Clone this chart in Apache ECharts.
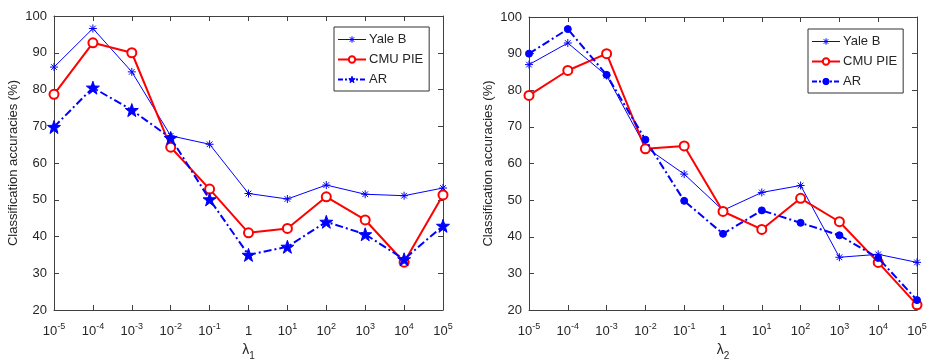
<!DOCTYPE html>
<html>
<head>
<meta charset="utf-8">
<script src="https://cdn.jsdelivr.net/npm/echarts@6/dist/echarts.min.js"></script>
<style>
  html, body { margin: 0; padding: 0; background: #fff; }
  #chart { width: 931px; height: 362px; }
</style>
</head>
<body>
<div id="chart"></div>
<script>
// lambda exponents on the x axis (10^e, 10^0 shown as "1")
const lambdaExp = [-5, -4, -3, -2, -1, 0, 1, 2, 3, 4, 5];
const yTicks = { min: 20, max: 100, interval: 10 };

// left panel: accuracy vs lambda_1
const yaleL = [86.1, 96.6, 84.8, 67.4, 65.1, 51.7, 50.2, 54.0, 51.5, 51.1, 53.2];
const cmuL  = [78.7, 92.7, 90.0, 64.3, 52.9, 41.0, 42.2, 50.8, 44.5, 33.0, 51.3];
const arL   = [69.8, 80.5, 74.4, 66.8, 50.1, 35.0, 37.2, 44.0, 40.6, 33.8, 42.9];

// right panel: accuracy vs lambda_2
const yaleR = [87.0, 92.9, 84.0, 64.5, 57.1, 47.2, 52.1, 54.0, 34.4, 35.2, 33.0];
const cmuR  = [78.6, 85.4, 90.0, 64.0, 64.8, 46.9, 42.0, 50.5, 44.1, 33.0, 21.4];
const arR   = [90.0, 96.7, 84.2, 66.5, 49.8, 40.8, 47.2, 43.8, 40.4, 34.2, 22.7];

const FONT = '"Liberation Sans", Arial, Helvetica, sans-serif';
const AXIS_C = '#404040';
const TEXT_C = '#262626';
const BLUE = '#0000ff';
const RED = '#ff0000';
const asterisk = 'path://M0,-10L0,10M-10,0L10,0M-7.07,-7.07L7.07,7.07M-7.07,7.07L7.07,-7.07';
const pentagram = 'path://M0,-10L2.35,-3.24L9.51,-3.09L3.8,1.24L5.88,8.09L0,4L-5.88,8.09L-3.8,1.24L-9.51,-3.09L-2.35,-3.24Z';

const chart = echarts.init(document.getElementById('chart'));

function tickLabel(v) {
  return v === '0' ? '{b|1}' : '{b|10}{s|' + v + '}';
}

function xAxes(gi, sub) {
  const cats = lambdaExp.map(String);
  return [
    {
      type: 'category', gridIndex: gi, data: cats, boundaryGap: false,
      position: 'bottom',
      axisLine: { lineStyle: { color: AXIS_C, width: 1 } },
      axisTick: { inside: true, length: 5, interval: 0, lineStyle: { color: AXIS_C } },
      axisLabel: {
        interval: 0, margin: 11, formatter: tickLabel, color: TEXT_C, fontFamily: FONT,
        rich: {
          b: { fontSize: 13, fontFamily: FONT, color: TEXT_C, lineHeight: 17, verticalAlign: 'bottom' },
          s: { fontSize: 9, fontFamily: FONT, color: TEXT_C, verticalAlign: 'top', lineHeight: 17, padding: [1, 0, 0, 0] }
        }
      },
      name: '{l|λ}{n|' + sub + '}',
      nameLocation: 'middle', nameGap: 32,
      nameTextStyle: {
        rich: {
          l: { fontSize: 14, fontFamily: FONT, color: TEXT_C, verticalAlign: 'top', lineHeight: 18 },
          n: { fontSize: 10, fontFamily: FONT, color: TEXT_C, verticalAlign: 'bottom', lineHeight: 18 }
        }
      },
      splitLine: { show: false }
    },
    {
      type: 'category', gridIndex: gi, data: cats, boundaryGap: false,
      position: 'top',
      axisLine: { lineStyle: { color: AXIS_C, width: 1 } },
      axisTick: { inside: true, length: 5, interval: 0, lineStyle: { color: AXIS_C } },
      axisLabel: { show: false },
      splitLine: { show: false }
    }
  ];
}

function yAxes(gi) {
  return [
    {
      type: 'value', gridIndex: gi, min: yTicks.min, max: yTicks.max, interval: yTicks.interval,
      position: 'left',
      axisLine: { show: true, lineStyle: { color: AXIS_C, width: 1 } },
      axisTick: { show: true, inside: true, length: 5, lineStyle: { color: AXIS_C } },
      axisLabel: { margin: 7, fontSize: 13, color: TEXT_C, fontFamily: FONT },
      splitLine: { show: false },
      name: 'Classification accuracies (%)',
      nameLocation: 'middle', nameGap: 34,
      nameTextStyle: { fontSize: 13, color: TEXT_C, fontFamily: FONT }
    },
    {
      type: 'value', gridIndex: gi, min: yTicks.min, max: yTicks.max, interval: yTicks.interval,
      position: 'right',
      axisLine: { show: true, lineStyle: { color: AXIS_C, width: 1 } },
      axisTick: { show: true, inside: true, length: 5, lineStyle: { color: AXIS_C } },
      axisLabel: { show: false },
      splitLine: { show: false }
    }
  ];
}

function seriesFor(gi, yale, cmu, ar, arSymbol, arSize, suffix) {
  const xi = gi * 2, yi = gi * 2;
  return [
    {
      name: 'Yale B' + suffix, type: 'line', xAxisIndex: xi, yAxisIndex: yi,
      data: yale, symbol: asterisk, symbolSize: 8, showAllSymbol: true,
      lineStyle: { color: BLUE, width: 1 },
      itemStyle: { color: BLUE, borderColor: BLUE, borderWidth: 1 },
      z: 3
    },
    {
      name: 'CMU PIE' + suffix, type: 'line', xAxisIndex: xi, yAxisIndex: yi,
      data: cmu, symbol: 'emptyCircle', symbolSize: 9, showAllSymbol: true,
      lineStyle: { color: RED, width: 2 },
      itemStyle: { color: RED, borderColor: RED, borderWidth: 1.8 },
      z: 4
    },
    {
      name: 'AR' + suffix, type: 'line', xAxisIndex: xi, yAxisIndex: yi,
      data: ar, symbol: arSymbol, symbolSize: arSize, showAllSymbol: true,
      lineStyle: { color: BLUE, width: 2, type: [8, 3, 2, 3] },
      itemStyle: { color: BLUE, borderColor: BLUE, borderWidth: 1 },
      z: 5
    }
  ];
}

function legendFor(left, top, suffix) {
  return {
    orient: 'vertical', left: left, top: top,
    data: [
      { name: 'Yale B' + suffix,
        itemStyle: { color: 'none', borderColor: BLUE, borderWidth: 1 },
        lineStyle: { width: 1, color: BLUE } },
      { name: 'CMU PIE' + suffix,
        itemStyle: { color: RED, borderColor: RED, borderWidth: 1.5 },
        lineStyle: { width: 2, color: RED } },
      { name: 'AR' + suffix,
        itemStyle: { color: BLUE, borderColor: BLUE, borderWidth: 1 },
        lineStyle: { width: 2, color: BLUE, type: [5, 2, 2, 2] } }
    ],
    formatter: name => name.replace(/ #\d$/, ''),
    itemWidth: 28, itemHeight: 8, itemGap: 5,
    padding: [5, 6, 4, 3],
    borderColor: '#333', borderWidth: 1, backgroundColor: '#fff',
    textStyle: { fontSize: 13, lineHeight: 15, color: TEXT_C, fontFamily: FONT, padding: [0, 0, 0, -2] },
    selectedMode: false
  };
}

chart.setOption({
  animation: false,
  backgroundColor: '#fff',
  grid: [
    { left: 54, right: 488, top: 16, bottom: 52, outerBoundsMode: 'none' },
    { left: 529, right: 14, top: 17, bottom: 52, outerBoundsMode: 'none' }
  ],
  xAxis: [...xAxes(0, '1'), ...xAxes(1, '2')],
  yAxis: [...yAxes(0), ...yAxes(1)],
  legend: [legendFor(334, 27, ''), legendFor(808, 29, ' #2')],
  series: [
    ...seriesFor(0, yaleL, cmuL, arL, pentagram, 13, ''),
    ...seriesFor(1, yaleR, cmuR, arR, 'circle', 7, ' #2')
  ]
});
</script>
</body>
</html>
